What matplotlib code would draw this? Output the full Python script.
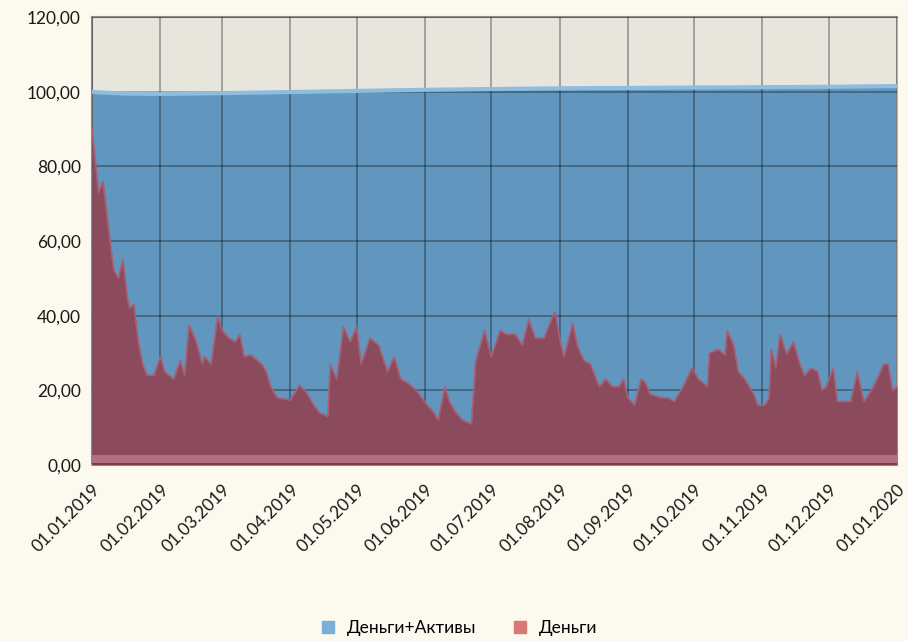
import numpy as np
import pandas as pd
import matplotlib
matplotlib.use("Agg")
import matplotlib.pyplot as plt
from matplotlib.lines import Line2D

plt.rcParams['font.family'] = ['Lato', 'DejaVu Sans']

start = pd.Timestamp("2019-01-01")

# Деньги+Активы (days since 01.01.2019, value)
total_days = [0, 15, 31, 59, 90, 120, 151, 181, 212, 243, 273, 304, 334, 365]
total_vals = [99.9, 99.5, 99.4, 99.6, 99.9, 100.2, 100.5, 100.7, 100.9, 101.0, 101.1, 101.2, 101.3, 101.5]

# Деньги
money_days = [0, 3, 5, 9, 10, 12, 14, 16, 17, 19, 21, 23, 25, 28, 31, 33, 37, 40, 42,
              44, 47, 50, 51, 54, 57, 59, 62, 65, 67, 69, 72, 77, 79, 81, 84, 90, 94, 97,
              100, 103, 107, 108, 111, 114, 117, 120, 122, 126, 130, 134, 137, 140, 143, 147, 152, 155, 157,
              160, 162, 165, 168, 172, 174, 178, 181, 185, 188, 192, 195, 198, 201, 205, 209, 210, 212, 214, 218,
              220, 223, 226, 230, 233, 236, 239, 241, 243, 246, 249, 251, 253, 258, 261, 264, 268, 272,
              275, 279, 280, 284, 287, 288, 291, 293, 296, 300, 302, 305, 307, 308, 310, 312, 315, 318, 321,
              323, 326, 329, 331, 333, 336, 338, 344, 347, 350, 354, 359, 361, 363, 365]
money_vals = [90, 73, 76, 56, 52, 50, 55, 45, 42, 43, 33, 27, 24, 24, 29, 25, 23, 28, 24,
              37.5, 33.5, 27, 29, 27, 40, 36, 34, 33, 35, 29, 29.5, 27, 25, 21, 18, 17.4, 21.4, 19.6,
              16.6, 14, 13, 27, 23, 37, 33, 37, 27, 34, 32, 25, 29, 23, 22, 20, 16, 14, 12,
              21, 17, 14, 12, 11, 28, 36, 29, 36, 35, 35, 32, 39, 34, 34, 40, 41, 34, 29, 38,
              32, 28, 27, 21, 23, 21, 21, 23, 18, 16, 23, 22, 19, 18, 18, 17, 21, 26,
              23, 21, 30, 31, 29.5, 36, 32, 25, 23, 19, 16, 16, 18, 31, 26, 35, 29.7, 33, 27,
              24, 26, 25, 20, 21, 26, 17, 17, 25, 17, 20.6, 27, 27, 20, 21]

yticks = [0, 20, 40, 60, 80, 100, 120]
month_ticks = pd.date_range("2019-01-01", "2020-01-01", freq="MS")

t_total = start + pd.to_timedelta(total_days, unit="D")
t_money = start + pd.to_timedelta(money_days, unit="D")

fig = plt.figure(figsize=(9.08, 6.41), dpi=100)
fig.patch.set_facecolor("#FCF9EE")
ax = fig.add_axes([92 / 908, 1 - 465 / 641, 805 / 908, 448 / 641])
ax.set_facecolor("#E8E5DD")

# blue area + lighter top face
ax.fill_between(t_total, 0, total_vals, color="#6196BE", zorder=2, lw=0)
ax.plot(t_total, total_vals, color="#8FBDE0", lw=3, zorder=3, solid_capstyle="butt")

# red area + lighter top edge
ax.fill_between(t_money, 0, money_vals, color="#8C4A5D", zorder=4, lw=0)
ax.plot(t_money, money_vals, color="#A95F73", lw=1.2, zorder=5)

# bevel at bottom
ax.axhspan(0.6, 2.6, color="#B07082", zorder=6, lw=0)
ax.axhspan(0, 0.6, color="#7A3C4E", zorder=6, lw=0)

ax.set_xlim(month_ticks[0], month_ticks[-1])
ax.set_ylim(0, 120)
ax.set_yticks(yticks)
ax.set_yticklabels([f"{v:.2f}".replace(".", ",") for v in yticks], fontsize=12.5, color="#1a1a1a")
ax.set_xticks(month_ticks)
ax.set_xticklabels([d.strftime("%d.%m.%Y") for d in month_ticks], rotation=45,
                   ha="right", va="top", rotation_mode="anchor", fontsize=12.5, color="#1a1a1a")
ax.tick_params(length=0, pad=8)
ax.tick_params(axis="x", pad=12)

ax.grid(True, color="black", alpha=0.32, lw=1.3, zorder=10)
ax.set_axisbelow(False)
for sp in ["top", "left"]:
    ax.spines[sp].set_color("#8C8C8C")
    ax.spines[sp].set_linewidth(1.5)
for sp in ["right", "bottom"]:
    ax.spines[sp].set_color("#B8B4AA")
    ax.spines[sp].set_linewidth(1.5)

handles = [Line2D([], [], marker="s", ls="none", color="#7AAFD8", markersize=9, label="Деньги+Активы"),
           Line2D([], [], marker="s", ls="none", color="#D87878", markersize=9, label="Деньги")]
fig.legend(handles=handles, loc="center", bbox_to_anchor=(0.5, 1 - 628 / 641), ncol=2,
           frameon=False, fontsize=12.5, handletextpad=0.1, columnspacing=1.5)

fig.savefig("out.png", dpi=100, facecolor=fig.get_facecolor())
